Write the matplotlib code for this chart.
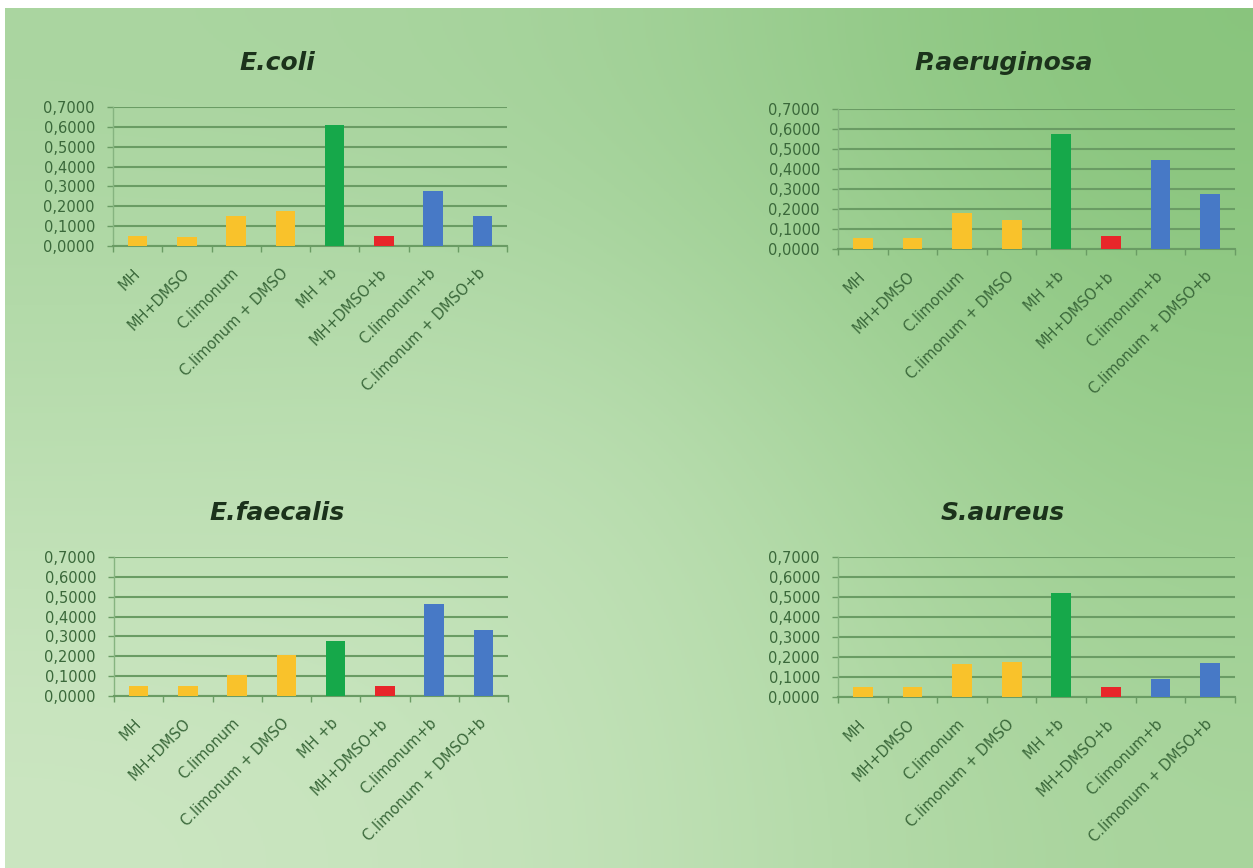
import numpy as np
import matplotlib
matplotlib.use('Agg')
import matplotlib.pyplot as plt

categories = ['MH', 'MH+DMSO', 'C.limonum', 'C.limonum + DMSO',
              'MH +b', 'MH+DMSO+b', 'C.limonum+b', 'C.limonum + DMSO+b']
bar_colors = ['#f9c22b', '#f9c22b', '#f9c22b', '#f9c22b',
              '#16a84a', '#e8262a', '#4779c6', '#4779c6']
yticks = [0.0, 0.1, 0.2, 0.3, 0.4, 0.5, 0.6, 0.7]

ecoli = [0.050, 0.045, 0.150, 0.175, 0.610, 0.050, 0.275, 0.150]
paeruginosa = [0.055, 0.055, 0.180, 0.145, 0.575, 0.065, 0.445, 0.275]
efaecalis = [0.050, 0.050, 0.105, 0.205, 0.275, 0.050, 0.465, 0.330]
saureus = [0.050, 0.050, 0.165, 0.175, 0.520, 0.050, 0.090, 0.170]

W, H = 1253, 868
TEXT = '#3a683a'
GRID = '#6a9c64'


def px_box(x0, x1, ytop, ybot):
    return [x0 / W, 1 - ybot / H, (x1 - x0) / W, (ybot - ytop) / H]


def draw_panel(fig, box, values, title, title_xy):
    ax = fig.add_axes(box)
    ax.set_facecolor('none')
    x = np.arange(len(categories))
    ax.bar(x, values, width=0.4, color=bar_colors, zorder=3)
    ax.set_xlim(-0.5, len(categories) - 0.5)
    ax.set_ylim(0, 0.7)
    ax.set_yticks(yticks)
    ax.set_yticklabels([f'{v:.4f}'.replace('.', ',') for v in yticks],
                       fontsize=10.5, color=TEXT)
    ax.yaxis.grid(True, color=GRID, linewidth=1.5, zorder=1)
    ax.tick_params(axis='y', length=4, width=1, color=GRID, pad=9)

    ax.set_xticks(x)
    ax.set_xticklabels(categories, rotation=45, ha='right',
                       rotation_mode='anchor', va='center',
                       fontsize=10.5, color=TEXT)
    ax.tick_params(axis='x', which='major', length=0, pad=18)
    ax.set_xticks(np.arange(len(categories) + 1) - 0.5, minor=True)
    ax.tick_params(axis='x', which='minor', length=4, width=1, color=GRID)

    for side in ['top', 'right']:
        ax.spines[side].set_visible(False)
    ax.spines['left'].set_color('#86b480')
    ax.spines['left'].set_linewidth(1.0)
    ax.spines['bottom'].set_color(GRID)
    ax.spines['bottom'].set_linewidth(1.5)

    fig.text(title_xy[0] / W, 1 - title_xy[1] / H, title, fontsize=18,
             fontweight='bold', fontstyle='italic', color='#1b321b',
             ha='center', va='center')
    return ax


fig = plt.figure(figsize=(W / 100, H / 100), dpi=100, facecolor='white')

# green backdrop: darker along the top and right, lightest at lower left
bg = fig.add_axes([5 / W, 0, 1 - 5 / W, 1 - 8 / H], zorder=-1)
grad = np.array([
    [[170, 213, 160], [165, 211, 155], [136, 196, 124]],
    [[186, 222, 176], [192, 225, 183], [150, 204, 138]],
    [[204, 230, 194], [194, 226, 184], [168, 212, 156]],
]) / 255.0
bg.imshow(grad, extent=[0, 1, 0, 1], aspect='auto', interpolation='bicubic')
bg.set_axis_off()

draw_panel(fig, px_box(113, 507, 107, 246), ecoli, 'E.coli', (277, 63))
draw_panel(fig, px_box(838, 1235, 109, 249), paeruginosa, 'P.aeruginosa', (1004, 63))
draw_panel(fig, px_box(114, 508, 557, 696), efaecalis, 'E.faecalis', (277, 513))
draw_panel(fig, px_box(838, 1235, 557, 697), saureus, 'S.aureus', (1003, 513))

fig.savefig('out.png', dpi=100, facecolor=fig.get_facecolor())
